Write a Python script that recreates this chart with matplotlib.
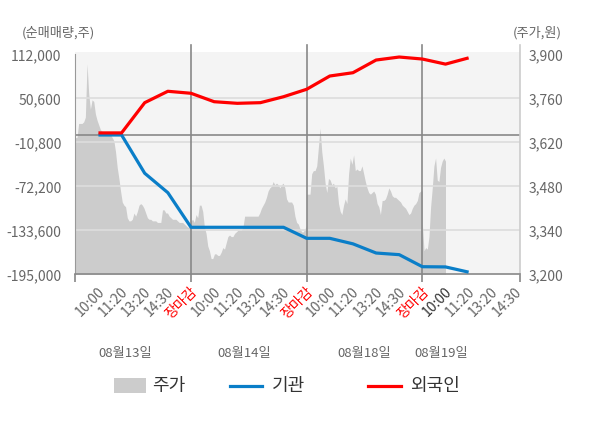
import numpy as np
import matplotlib
matplotlib.use('Agg')
import matplotlib.pyplot as plt
from matplotlib.patches import Rectangle
from matplotlib.lines import Line2D
import matplotlib.transforms as mtrans

plt.rcParams['font.family'] = ['Noto Sans CJK KR', 'DejaVu Sans']

# ---------------- data ----------------
days = ['08월13일', '08월14일', '08월18일', '08월19일']
slot_labels = ['10:00', '11:20', '13:20', '14:30', '장마감']

# price (주가), sampled evenly across each trading day
price_d1 = [3635, 3635, 3680, 3680, 3680, 3685, 3700, 3870, 3775, 3725,
            3755, 3750, 3710, 3690, 3675, 3660, 3655, 3650, 3655, 3650,
            3655, 3645, 3635, 3625, 3590, 3540, 3505, 3465, 3430, 3420,
            3415, 3380, 3370, 3370, 3375, 3395, 3385, 3400, 3420, 3425,
            3420, 3410, 3395, 3380, 3375, 3375, 3370, 3370, 3370, 3365,
            3365, 3365, 3405, 3405, 3395, 3395, 3385, 3380, 3375, 3375,
            3375, 3370, 3365, 3365, 3365, 3360, 3355, 3350, 3350, 3350]
price_d2 = [3370, 3375, 3365, 3390, 3380, 3420, 3420, 3400, 3350, 3330,
            3290, 3275, 3250, 3250, 3265, 3265, 3260, 3260, 3270, 3285,
            3280, 3300, 3320, 3325, 3320, 3320, 3330, 3335, 3340, 3340,
            3340, 3350, 3385, 3385, 3385, 3385, 3385, 3385, 3385, 3385,
            3385, 3395, 3410, 3420, 3430, 3445, 3465, 3475, 3480, 3495,
            3485, 3490, 3485, 3475, 3485, 3490, 3475, 3440, 3430, 3430,
            3430, 3420, 3385, 3365, 3360, 3345, 3335, 3335, 3345, 3355]
price_d3 = [3455, 3455, 3455, 3520, 3530, 3530, 3545, 3605, 3665, 3590,
            3545, 3490, 3460, 3505, 3500, 3485, 3490, 3475, 3480, 3425,
            3400, 3390, 3420, 3440, 3425, 3520, 3570, 3550, 3580, 3530,
            3535, 3530, 3530, 3545, 3520, 3495, 3475, 3460, 3455, 3460,
            3465, 3455, 3425, 3415, 3390, 3435, 3435, 3440, 3455, 3475,
            3465, 3450, 3445, 3445, 3440, 3435, 3430, 3420, 3415, 3410,
            3400, 3390, 3395, 3410, 3420, 3425, 3435, 3460, 3465, 3465]
# last day: only 09:00 - 10:00
price_d4 = [3360, 3275, 3285, 3280, 3320, 3415, 3475, 3545, 3570, 3500,
            3495, 3540, 3560, 3570, 3560]

# cumulative net buying at each report time (10:00 of day 1 ... 11:20 of day 4)
inst = [-600, -600, -54000, -81100, -129400, -129400, -129400, -129400, -129400,
        -144800, -144800, -152500, -165300, -167600, -184400, -184700, -192000]
foreign = [2300, 2300, 44500, 60400, 57600, 45850, 43600, 44500, 52800,
           63200, 81700, 86300, 104000, 108200, 105400, 98300, 107000]

left_ticks = [112000, 50600, -10800, -72200, -133600, -195000]
right_ticks = [3900, 3760, 3620, 3480, 3340, 3200]

# ---------------- layout ----------------
W, H = 600, 428
L, R, T, B = 75.3, 520.0, 54.3, 274.3
GREY_TXT = '#666666'
BLUE = '#0a7ec8'
RED = '#ff0000'

fig = plt.figure(figsize=(W / 100, H / 100), dpi=100)
fig.patch.set_facecolor('white')
ax = fig.add_axes([L / W, 1 - B / H, (R - L) / W, (B - T) / H])
ax2 = ax.twinx()
ax.set_zorder(ax2.get_zorder() + 1)
ax.patch.set_visible(False)
ax2.patch.set_visible(False)
fig.add_artist(Rectangle((L / W, 1 - B / H), (R - L) / W, (B - 51.7) / H,
                         transform=fig.transFigure, facecolor='#f4f4f4',
                         edgecolor='none', zorder=-1))

n_slots_per_day = len(slot_labels)
xmax = 19.22

# price area
px = np.concatenate([
    np.linspace(0, 5, len(price_d1)),
    np.linspace(5, 10, len(price_d2)),
    np.linspace(10, 15, len(price_d3)),
    np.linspace(15, 16, len(price_d4)),
])
pv = np.concatenate([price_d1, price_d2, price_d3, price_d4])
ax2.fill_between(px, right_ticks[-1], pv, color='#cccccc', lw=0)
ax2.set_ylim(right_ticks[-1], right_ticks[0])
ax2.set_yticks(right_ticks)
ax2.set_yticklabels([f'{v:,}' for v in right_ticks])
ax2.tick_params(axis='y', length=0, pad=6, labelsize=10, labelcolor=GREY_TXT)
for s in ax2.spines.values():
    s.set_visible(False)

# investor lines
slots = np.arange(1, len(inst) + 1)
ax.set_xlim(0, xmax)
ax.set_ylim(left_ticks[-1], left_ticks[0])
ax.set_yticks(left_ticks)
ax.set_yticklabels([f'{v:,}' for v in left_ticks])
ax.tick_params(axis='y', length=0, pad=10, labelsize=10, labelcolor=GREY_TXT)

for v in left_ticks[1:-1]:
    ax.axhline(v, color='#dddddd', lw=1.2, zorder=1)
ax.axhline(0, color='#888888', lw=1.2, zorder=1.5)

ax.plot(slots, inst, color=BLUE, lw=2.3, zorder=3, solid_capstyle='butt')
ax.plot(slots, foreign, color=RED, lw=2.3, zorder=4, solid_capstyle='butt')

# spines / separators
ax.spines['top'].set_visible(False)
ax.spines['right'].set_visible(False)
ax.spines['left'].set_color('#999999')
ax.spines['bottom'].set_color('#888888')
ax.spines['bottom'].set_linewidth(1.2)
top_ext = (B - 45) / (B - T)
ax.add_line(Line2D([1, 1], [0, top_ext], transform=ax.transAxes,
                   color='#cccccc', lw=1.2, clip_on=False))
xt = ax.get_xaxis_transform()
for d in range(1, 4):
    xv = d * n_slots_per_day
    ax.add_line(Line2D([xv, xv], [0, top_ext], transform=xt,
                       color='#888888', lw=1.2, clip_on=False, zorder=2))

ax.set_xticks([])
ax.set_xticks([0, 5, 10, 15, xmax], minor=True)
ax.tick_params(axis='x', which='minor', length=6, width=1.2, color='#888888',
               direction='out', labelbottom=False)

# x tick labels (rotated)
off = mtrans.ScaledTranslation(4 / 100, -15 / 100, fig.dpi_scale_trans)
k = 0
for d in range(len(days)):
    labs = slot_labels if d < len(days) - 1 else slot_labels[:4]
    for j, lab in enumerate(labs):
        k += 1
        if lab == '장마감':
            c = RED
        elif d == len(days) - 1 and j == 0:
            c = '#333333'
        else:
            c = GREY_TXT
        ax.text(k, 0, lab, transform=xt + off, rotation=45,
                rotation_mode='anchor', ha='right', va='center',
                fontsize=10, color=c)

# day labels
day_x = [2.15, 7.3, 12.5, 15.8]
offd = mtrans.ScaledTranslation(0, -79 / 100, fig.dpi_scale_trans)
for xd, dl in zip(day_x, days):
    ax.text(xd, 0, dl, transform=xt + offd, ha='center', va='center',
            fontsize=9.5, color=GREY_TXT)

# axis titles
fig.text(22 / W, 1 - 33 / H, '(순매매량,주)', ha='left', va='center',
         fontsize=9.5, color=GREY_TXT)
fig.text(562 / W, 1 - 33 / H, '(주가,원)', ha='right', va='center',
         fontsize=9.5, color=GREY_TXT)

# legend (manual)
ly = 1 - 385.5 / H
fig.add_artist(Rectangle((114.3 / W, 1 - 392.7 / H), 31.4 / W, 14.7 / H,
                         transform=fig.transFigure, facecolor='#cccccc',
                         edgecolor='none'))
fig.text(152 / W, ly, '주가', ha='left', va='center', fontsize=13, color='#333333')
fig.add_artist(Line2D([230 / W, 262 / W], [ly, ly], transform=fig.transFigure,
                      color=BLUE, lw=2.3))
fig.text(272 / W, ly, '기관', ha='left', va='center', fontsize=13, color='#333333')
fig.add_artist(Line2D([368 / W, 401 / W], [ly, ly], transform=fig.transFigure,
                      color=RED, lw=2.3))
fig.text(410 / W, ly, '외국인', ha='left', va='center', fontsize=13, color='#333333')

fig.savefig('out.png', dpi=100, facecolor='white')
